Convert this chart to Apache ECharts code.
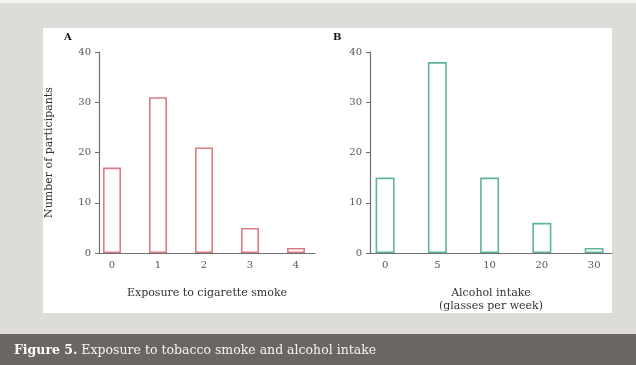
<!DOCTYPE html>
<html>
<head>
<meta charset="utf-8">
<script src="https://cdn.jsdelivr.net/npm/echarts@6/dist/echarts.min.js"></script>
<style>
  html, body { margin: 0; padding: 0; }
  body { width: 636px; height: 365px; background: #dddcd8; position: relative; overflow: hidden; }
  .topline { position: absolute; left: 0; top: 0; width: 636px; height: 3px; background: #f4f4f2; }
  .panel { position: absolute; left: 43px; top: 28px; width: 569px; height: 285px; background: #fff; }
  .caption { position: absolute; left: 0; top: 334px; width: 636px; height: 31px; background: #6b6662; }
  #chart { position: absolute; left: 0; top: 0; width: 636px; height: 365px; }
</style>
</head>
<body>
<div class="topline"></div>
<div class="panel"></div>
<div class="caption"></div>
<div id="chart"></div>
<script>
// panel A: exposure to cigarette smoke
const smokeCats = ['0', '1', '2', '3', '4']
const smokeCounts = [17, 31, 21, 5, 1]
// panel B: alcohol intake (glasses per week)
const alcoholCats = ['0', '5', '10', '20', '30']
const alcoholCounts = [15, 38, 15, 6, 1]

const yTicks = { min: 0, max: 40, interval: 10 }

const serif = 'DejaVu Serif'
const axisGrey = '#6e6e6e'
const labelGrey = '#555'

const chart = echarts.init(document.getElementById('chart'))

const xAxisFor = (gridIndex, cats, min, max, name) => ({
  type: 'value',
  gridIndex,
  min,
  max,
  name,
  nameLocation: 'middle',
  nameGap: 34,
  nameTextStyle: { color: '#333', fontFamily: serif, fontSize: 11, lineHeight: 13, verticalAlign: 'top' },
  axisLine: { show: true, onZero: false, lineStyle: { color: axisGrey, width: 1.2 } },
  axisTick: { show: false },
  splitLine: { show: false },
  axisLabel: {
    color: labelGrey, fontFamily: serif, fontSize: 10, margin: 7,
    showMinLabel: false, showMaxLabel: false,
    formatter: v => (Number.isInteger(v) && cats[v] !== undefined) ? cats[v] : ''
  }
})

const yAxisFor = (gridIndex, name) => ({
  type: 'value',
  gridIndex,
  ...yTicks,
  name,
  nameLocation: 'middle',
  nameRotate: 90,
  nameGap: 44,
  nameTextStyle: { color: '#333', fontFamily: serif, fontSize: 11 },
  axisLine: { show: true, onZero: false, lineStyle: { color: axisGrey, width: 1.2 } },
  axisTick: { show: true, length: 4, lineStyle: { color: axisGrey } },
  splitLine: { show: false },
  axisLabel: { color: labelGrey, fontFamily: serif, fontSize: 10, margin: 8 }
})

chart.setOption({
  animation: false,
  backgroundColor: 'transparent',
  title: [
    { text: 'A', left: 64, top: 32, padding: 0, textStyle: { fontFamily: serif, fontSize: 10, fontWeight: 'bold', color: '#111' } },
    { text: 'B', left: 333, top: 32, padding: 0, textStyle: { fontFamily: serif, fontSize: 10, fontWeight: 'bold', color: '#111' } },
    {
      text: '{b|Figure 5.} Exposure to tobacco smoke and alcohol intake',
      left: 14, top: 344, padding: 0,
      textStyle: {
        fontFamily: serif, fontSize: 12.5, fontWeight: 'normal', color: '#f4f4f4',
        rich: { b: { fontFamily: serif, fontSize: 12.5, fontWeight: 'bold', color: '#ffffff' } }
      }
    }
  ],
  grid: [
    { left: 99, top: 52, width: 216, height: 201 },
    { left: 370, top: 52, width: 242, height: 201 }
  ],
  xAxis: [
    xAxisFor(0, smokeCats, -0.283, 4.413, 'Exposure to cigarette smoke'),
    xAxisFor(1, alcoholCats, -0.289, 4.342, 'Alcohol intake\n(glasses per week)')
  ],
  yAxis: [
    yAxisFor(0, 'Number of participants'),
    yAxisFor(1, '')
  ],
  series: [
    {
      type: 'bar',
      xAxisIndex: 0, yAxisIndex: 0,
      barWidth: 18,
      data: smokeCounts.map((v, i) => [i, v]),
      itemStyle: { color: '#ffffff', borderColor: '#dc7c84', borderWidth: 1.6 }
    },
    {
      type: 'bar',
      xAxisIndex: 1, yAxisIndex: 1,
      barWidth: 19,
      data: alcoholCounts.map((v, i) => [i, v]),
      itemStyle: { color: '#ffffff', borderColor: '#5fb597', borderWidth: 1.6 }
    }
  ]
})
</script>
</body>
</html>
